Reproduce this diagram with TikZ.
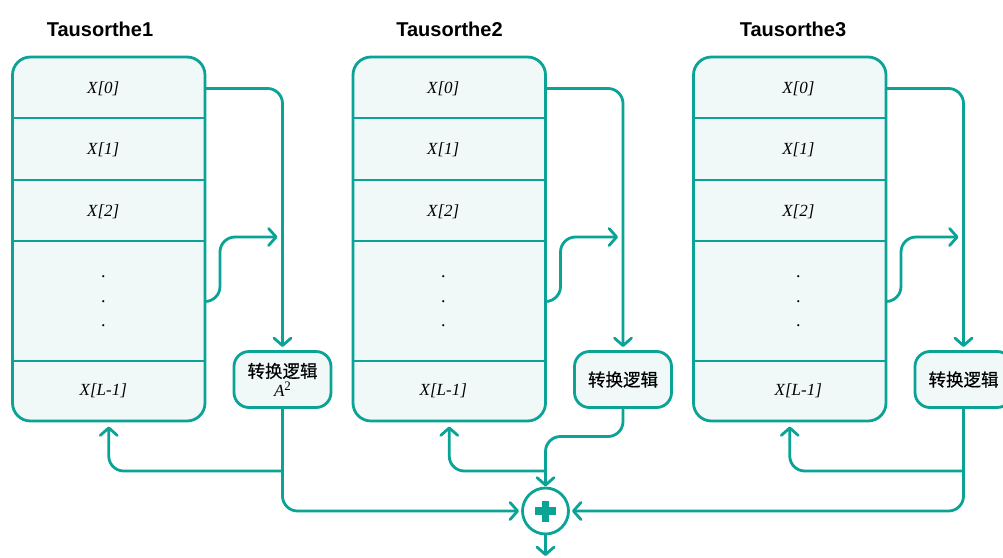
\documentclass[tikz,border=0pt]{standalone}
\usepackage{fontspec}
\setmainfont{Liberation Serif}
\setsansfont{Liberation Sans}
\newfontfamily\cjk{Noto Sans CJK SC}[FakeBold=0.4]
\usetikzlibrary{arrows.meta}
\definecolor{tealline}{HTML}{0AA396}
\definecolor{lightfill}{HTML}{F0F9F8}
\tikzset{
  regbox/.style={draw=tealline, fill=lightfill, line width=2.8pt, rounded corners=18pt,
    minimum width=192.5pt, minimum height=364pt, inner sep=0pt, outer sep=0pt},
  divider/.style={draw=tealline, line width=2.8pt},
  cell/.style={font=\fontsize{17}{20}\selectfont\itshape, inner sep=0pt},
  dotcell/.style={font=\fontsize{18}{20}\selectfont, inner sep=0pt},
  title/.style={font=\fontsize{20}{24}\selectfont\sffamily\bfseries, inner sep=0pt},
  logicbox/.style={draw=tealline, fill=lightfill, line width=2.8pt, rounded corners=15pt,
    minimum width=97pt, minimum height=56pt, inner sep=0pt, outer sep=0pt,
    font=\fontsize{17.5}{21.5}\selectfont\cjk, align=center},
  link/.style={draw=tealline, line width=2.8pt, rounded corners=15pt,
    -{Straight Barb[length=7.5pt, width=17pt, round]}},
  adder/.style={circle, draw=tealline, fill=white, line width=2.8pt,
    minimum size=46pt, inner sep=0pt, outer sep=0pt},
}
\begin{document}
\begin{tikzpicture}[x=1pt,y=-1pt]
\useasboundingbox (0,0) rectangle (1003,557);
\clip (0,0) rectangle (1003,557);
\fill[white] (0,0) rectangle (1003,557);

\foreach \i/\L/\off/\tx in {1/12.5/90.8/100, 2/353/90.3/449.5, 3/693.5/104.8/793} {
  \node[title] (title\i) at (\tx,29) {Tausorthe\i};
  \node[regbox] (b\i) at (\L+96.25,239) {};
  \foreach \y in {118,180,241,361}
    \draw[divider] (b\i.west |- 0,\y) -- (b\i.east |- 0,\y);
  \node[cell] (x\i-0) at (\L+\off,88.5) {X[0]};
  \node[cell] (x\i-1) at (\L+\off,150) {X[1]};
  \node[cell] (x\i-2) at (\L+\off,211.5) {X[2]};
  \node[dotcell] (d\i-1) at (\L+\off,277) {.};
  \node[dotcell] (d\i-2) at (\L+\off,301.5) {.};
  \node[dotcell] (d\i-3) at (\L+\off,326) {.};
  \node[cell] (x\i-L) at (\L+\off,391) {X[L-1]};
}

\node[logicbox] (t1) at (282.5,379.5) {\raisebox{-2pt}{转换逻辑}\\[-1pt]{\rmfamily\itshape\fontsize{17}{20}\selectfont A\/}{\rmfamily\fontsize{13}{13}\selectfont\raisebox{5.5pt}{2}}};
\node[logicbox] (t2) at (623,379.5) {转换逻辑};
\node[logicbox] (t3) at (963.5,379.5) {转换逻辑};

\node[adder] (plus) at (545.5,511) {};
\fill[tealline] (plus.center) +(-10.5,-3.6) rectangle +(10.5,3.6);
\fill[tealline] (plus.center) +(-3.6,-10.5) rectangle +(3.6,10.5);

\foreach \i/\L in {1/12.5, 2/353, 3/693.5} {
  \draw[link, shorten >=4.5pt] (b\i.east |- x\i-0) -| (t\i.north);
  \draw[link, shorten >=5pt] (b\i.east |- d\i-2) -| (\L+207.5,237) -- (t\i.north |- 0,237);
}

\draw[link, shorten >=3.5pt] (t1.south) |- (plus.west);
\draw[link, shorten >=5.5pt] (t1.south |- 0,471) -| (b1.south);
\draw[link, shorten >=1.5pt] (t2.south) -- ++(0,29) -| (plus.north);
\draw[link, shorten >=5.5pt] (plus.north |- 0,471) -| (b2.south);
\draw[link, shorten >=3.5pt] (t3.south) |- (plus.east);
\draw[link, shorten >=5.5pt] (t3.south |- 0,471) -| (b3.south);
\draw[link] (plus.south) -- ++(0,22);
\end{tikzpicture}
\end{document}
